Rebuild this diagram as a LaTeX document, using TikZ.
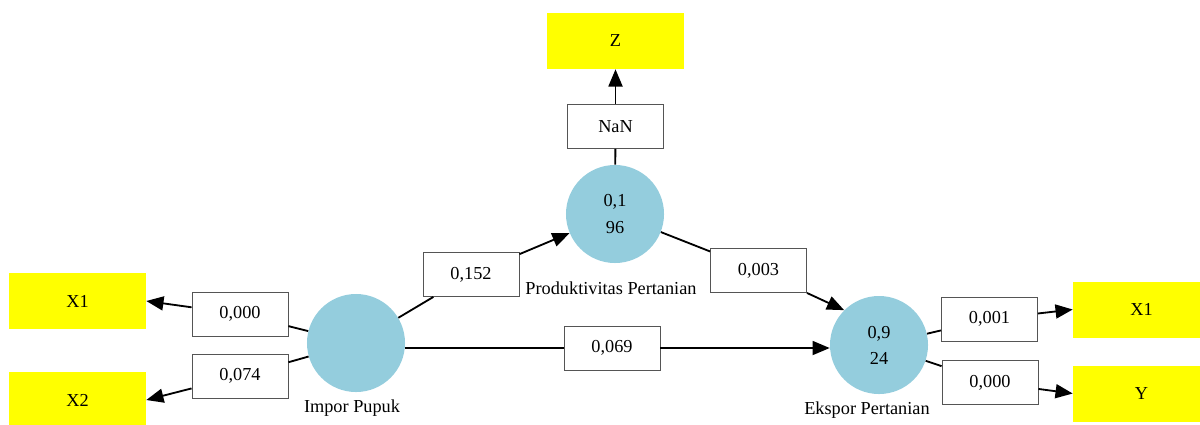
\documentclass[tikz,border=0pt]{standalone}
\usepackage{fontspec}
\setmainfont{Liberation Serif}
\usetikzlibrary{arrows.meta,positioning}
\definecolor{constructblue}{HTML}{94CDDD}
\definecolor{indyellow}{HTML}{FFFF00}
\definecolor{boxgray}{HTML}{555555}
\tikzset{
  construct/.style={circle,fill=constructblue,minimum size=2.45cm,inner sep=0pt,align=center,font=\fontsize{13}{18.5}\selectfont},
  indicator/.style={rectangle,fill=indyellow,minimum width=3.425cm,minimum height=1.4cm,font=\fontsize{13}{16}\selectfont},
  coef/.style={rectangle,draw=boxgray,line width=0.6pt,fill=white,minimum width=2.4cm,minimum height=1.1cm,font=\fontsize{13}{16}\selectfont},
  cname/.style={font=\fontsize{13}{16}\selectfont,inner sep=1pt},
  arrow/.style={-{Triangle[length=4.3mm,width=3.5mm]},line width=1.3pt},
  line/.style={line width=1.3pt}
}

\begin{document}
\begin{tikzpicture}[x=0.025cm,y=-0.025cm]
  \useasboundingbox (0,0) rectangle (1200,424);

  \node[construct] (impor) at (356,343) {};
  \node[construct] (produk) at (615,214) {0,1\\96};
  \node[construct] (ekspor) at (879,345) {0,9\\24};
  \node[cname] (imporname) at (352,408) {Impor Pupuk};
  \node[cname] (produkname) at (611,288) {Produktivitas Pertanian};
  \node[cname] (eksporname) at (867,410) {Ekspor Pertanian};

  \node[indicator] (x1left) at (77.5,301) {X1};
  \node[indicator] (x2left) at (77.5,400) {X2};
  \node[indicator] (zind) at (615.5,41) {Z};
  \node[indicator] (x1right) at (1141.5,309.5) {X1};
  \node[indicator] (yind) at (1141.5,393.5) {Y};

  \node[coef] (cx1) at (240,314) {0,000};
  \node[coef] (cx2) at (240,376) {0,074};
  \node[coef] (cip) at (471,274.5) {0,152};
  \node[coef] (cz) at (615.5,126.5) {NaN};
  \node[coef] (cpe) at (758.5,270.5) {0,003};
  \node[coef] (cie) at (612,348) {0,069};
  \node[coef] (cex) at (989.5,319) {0,001};
  \node[coef] (cey) at (990,382.5) {0,000};

  \draw[line] (impor) -- (cx1);
  \draw[arrow] (cx1) -- (x1left.east);
  \draw[line] (impor) -- (cx2);
  \draw[arrow] (cx2) -- (x2left.east);
  \draw[line] (impor) -- (cip);
  \draw[arrow] (cip) -- (produk);
  \draw[line] (produk) -- (cz);
  \draw[arrow] (cz) -- (zind);
  \draw[line] (produk) -- (cpe);
  \draw[arrow] (cpe) -- (ekspor.north west);
  \draw[line] (cie.west -| impor.east) -- (cie.west);
  \draw[arrow] (cie.east) -- (cie.east -| ekspor.west);
  \draw[line] (ekspor) -- (cex);
  \draw[arrow] (cex) -- (x1right.west);
  \draw[line] (ekspor) -- (cey);
  \draw[arrow] (cey) -- (yind.west);
\end{tikzpicture}
\end{document}
